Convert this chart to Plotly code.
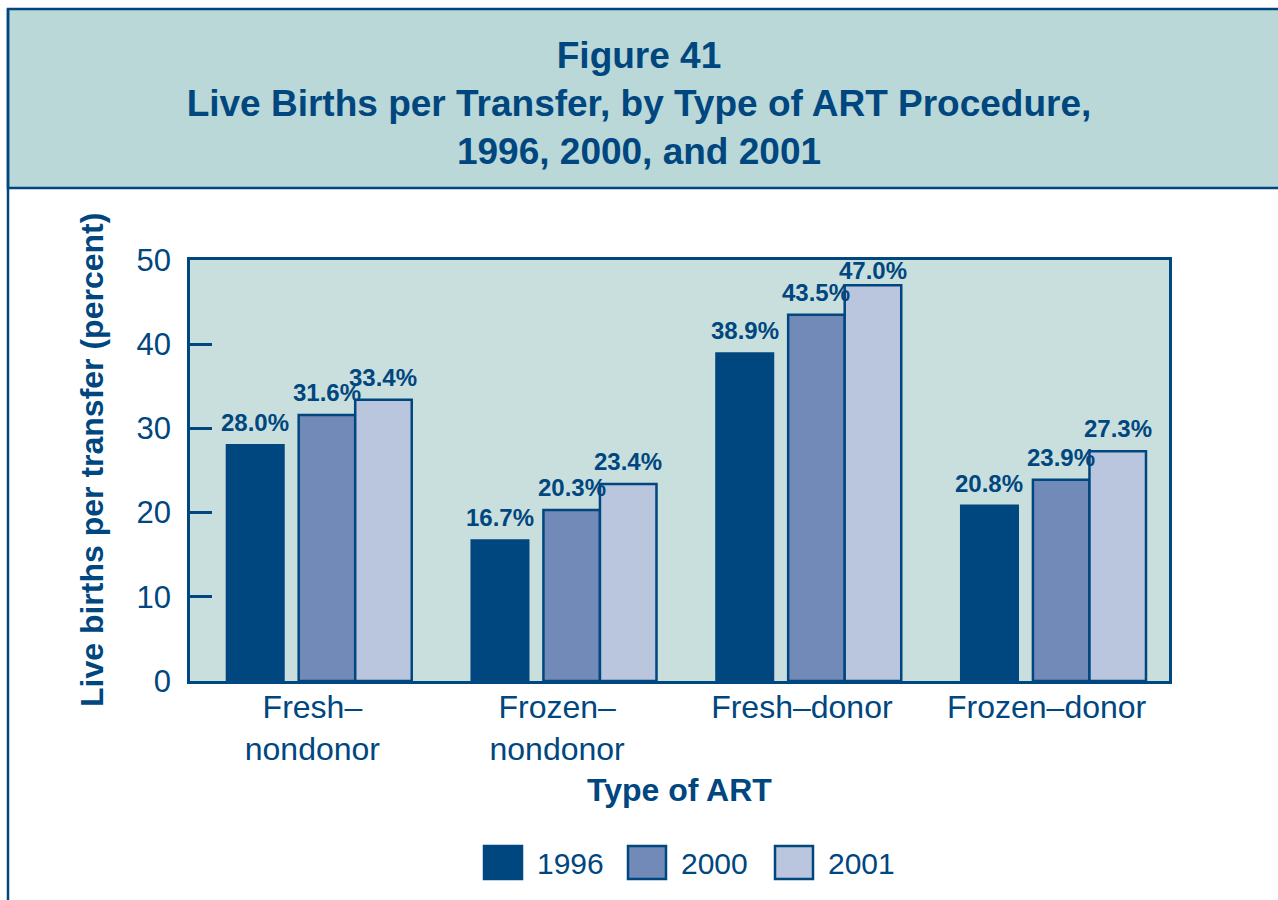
import plotly.graph_objects as go

# ---- data ----
categories = ["Fresh–<br>nondonor", "Frozen–<br>nondonor", "Fresh–donor", "Frozen–donor"]
years = ["1996", "2000", "2001"]
rates_1996 = [28.0, 16.7, 38.9, 20.8]
rates_2000 = [31.6, 20.3, 43.5, 23.9]
rates_2001 = [33.4, 23.4, 47.0, 27.3]
y_ticks = [0, 10, 20, 30, 40, 50]

# ---- style ----
NAVY = "#00467F"
BAR_COLORS = ["#00467F", "#718AB8", "#BAC5DE"]
PLOT_BG = "#C9DFDD"
BANNER_BG = "#B9D8D7"
FONT = "Liberation Sans, Arial, sans-serif"

W, H = 1278, 900
L, R, T, B = 190, 1169, 260, 681   # plot area in pixels
Y_MAX = 50


def px_x(x):
    return (x - L) / (R - L)


def px_y(y):
    return (B - y) / (B - T)


fig = go.Figure()

bar_width = 0.231
bar_offsets = [-0.349, -0.056, 0.175]
series = [rates_1996, rates_2000, rates_2001]

annotations = []
LABEL_SIZE = 24
for name, vals, color, off in zip(years, series, BAR_COLORS, bar_offsets):
    fig.add_trace(go.Bar(
        x=categories, y=vals, name=name,
        offset=off, width=bar_width,
        marker=dict(color=color, line=dict(color=NAVY, width=2.5)),
        showlegend=False,
    ))
    # value labels above each bar, kept inside the plot frame
    for i, v in enumerate(vals):
        top_px = B - v / Y_MAX * (B - T)
        room = top_px - T - LABEL_SIZE - 2
        annotations.append(dict(
            text=f"<b>{v:.1f}%</b>", xref="x", yref="y",
            x=i + off + bar_width / 2, y=v, showarrow=False,
            xanchor="center", yanchor="bottom", yshift=min(7, room),
            font=dict(family=FONT, size=LABEL_SIZE, color=NAVY),
        ))

shapes = [
    # title banner
    dict(type="rect", xref="paper", yref="paper",
         x0=px_x(8), x1=px_x(1295), y0=px_y(188), y1=px_y(9),
         fillcolor=BANNER_BG, line=dict(color=NAVY, width=2.5), layer="below"),
    # left frame line
    dict(type="line", xref="paper", yref="paper",
         x0=px_x(8), x1=px_x(8), y0=px_y(9), y1=px_y(910),
         line=dict(color=NAVY, width=2.5)),
]

annotations += [
    dict(text="<b>Live births per transfer (percent)</b>", xref="paper", yref="paper",
         x=px_x(92), y=px_y(460), textangle=-90, showarrow=False,
         xanchor="center", yanchor="middle",
         font=dict(family=FONT, size=32, color=NAVY)),
    dict(text="<b>Type of ART</b>", xref="paper", yref="paper",
         x=px_x(679), y=px_y(790), showarrow=False,
         xanchor="center", yanchor="middle",
         font=dict(family=FONT, size=32, color=NAVY)),
]

# legend: swatches and labels
legend_swatch_x = [484, 628, 775]
for name, color, sx in zip(years, BAR_COLORS, legend_swatch_x):
    shapes.append(dict(type="rect", xref="paper", yref="paper",
                       x0=px_x(sx), x1=px_x(sx + 38), y0=px_y(879), y1=px_y(846),
                       fillcolor=color, line=dict(color=NAVY, width=2.5)))
    annotations.append(dict(text=name, xref="paper", yref="paper",
                            x=px_x(sx + 51), y=px_y(863), showarrow=False,
                            xanchor="left", yanchor="middle",
                            font=dict(family=FONT, size=30, color=NAVY)))

fig.update_layout(
    width=W, height=H,
    margin=dict(l=L, r=W - R, t=T, b=H - B, pad=0),
    paper_bgcolor="white", plot_bgcolor=PLOT_BG,
    barmode="overlay",
    font=dict(family=FONT, color=NAVY),
    title=dict(
        text="<b>Figure 41<br>Live Births per Transfer, by Type of ART Procedure,<br>1996, 2000, and 2001</b>",
        x=0.5, xref="container", xanchor="center",
        y=1 - 68 / H, yref="container", yanchor="middle",
        font=dict(family=FONT, size=37, color=NAVY),
    ),
    xaxis=dict(
        type="category", range=[-0.5, 3.5],
        showline=True, linecolor=NAVY, linewidth=2.5, mirror=True,
        ticks="", showgrid=False, zeroline=False,
        ticklabelstandoff=-4,
        tickfont=dict(family=FONT, size=32, color=NAVY),
    ),
    yaxis=dict(
        range=[0, Y_MAX], tickvals=y_ticks,
        showline=True, linecolor=NAVY, linewidth=2.5, mirror=True,
        ticks="inside", ticklen=22, tickwidth=2.5, tickcolor=NAVY,
        ticklabelstandoff=10,
        showgrid=False, zeroline=False,
        tickfont=dict(family=FONT, size=31, color=NAVY),
    ),
    shapes=shapes, annotations=annotations,
)

fig.write_html("out.html")
